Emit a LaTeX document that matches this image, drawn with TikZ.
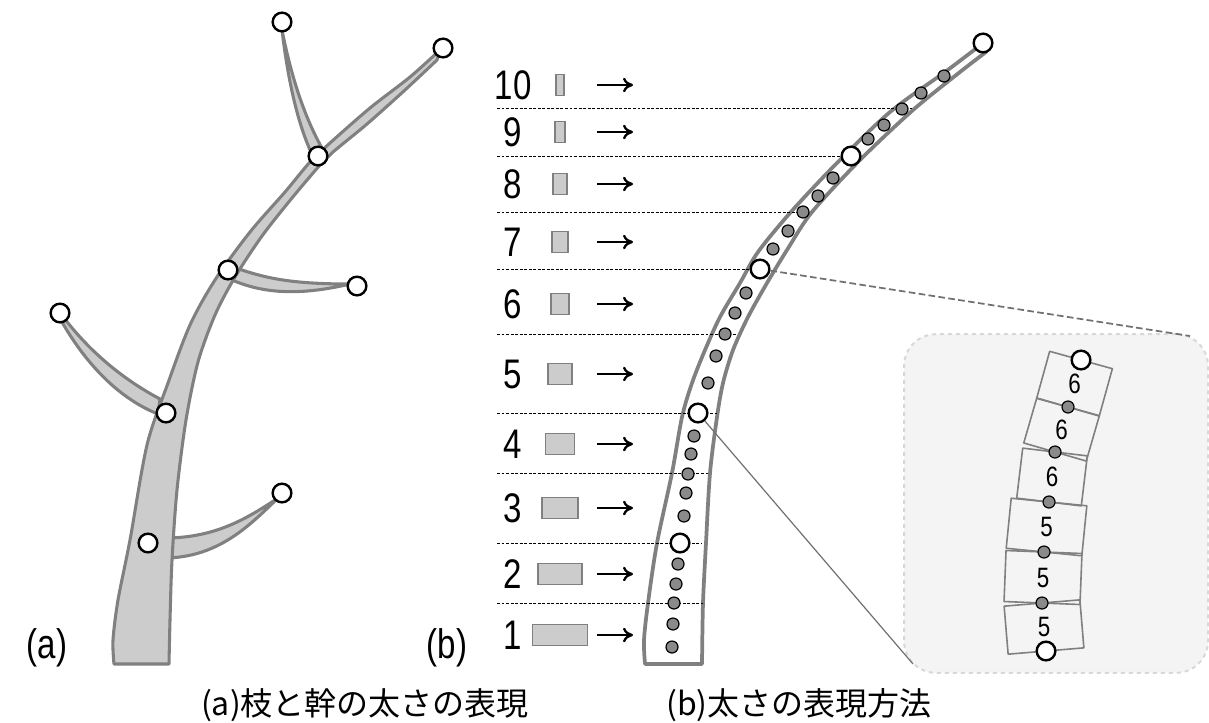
\documentclass[tikz,border=0pt]{standalone}
\usepackage{fontspec}
\setmainfont{Liberation Sans}
\newfontfamily\jpfont{Noto Sans CJK JP}
\usetikzlibrary{arrows.meta, calc}
\definecolor{my_stroke}{HTML}{808080}
\definecolor{my_wood}{HTML}{CCCCCC}
\definecolor{my_dot}{HTML}{8A8A8A}
\definecolor{my_panel}{HTML}{F4F4F4}
\definecolor{my_panelline}{HTML}{D8D8D8}
\definecolor{my_zoom}{HTML}{707070}
\newcommand{\slimtext}[1]{\scalebox{0.8}[1]{#1}}

\begin{document}
\begin{tikzpicture}[
    x=0.75pt, y=-0.75pt,
    wood/.style={fill=my_wood, draw=my_stroke, line width=2.3pt, line join=round},
    bark/.style={fill=white, draw=my_stroke, line width=2.8pt, line join=round},
    knot/.style={circle, draw=black, fill=white, line width=1.8pt, minimum size=14pt, inner sep=0pt},
    segdot/.style={circle, draw=black, fill=my_dot, line width=0.9pt, minimum size=9pt, inner sep=0pt},
    bar/.style={draw=my_stroke, fill=my_wood, line width=1.1pt, minimum height=16pt, inner sep=0pt},
    level/.style={line width=0.7pt, dash pattern=on 2.2pt off 1.2pt},
    numarrow/.style={line width=1.7pt, -{To[length=7.5pt, width=11pt]}},
    numlabel/.style={font=\fontsize{31}{31}\selectfont, inner sep=0pt},
    segbox/.style={draw=my_stroke, line width=1.2pt, line join=round},
    seglabel/.style={font=\fontsize{21}{21}\selectfont, inner sep=0pt},
    panel/.style={draw=my_panelline, fill=my_panel, dashed, line width=1.5pt,
        rounded corners=24pt, minimum width=228pt, minimum height=254pt},
    caption/.style={font=\jpfont\fontsize{24}{24}\selectfont, inner sep=0pt}
]
\useasboundingbox (0,0) rectangle (1209,722);

% ----------------------------------------------------------
% (a) branches and trunk
% ----------------------------------------------------------
\draw[wood] (310,150) .. controls (297,120) and (288,80) .. (282,30)
    .. controls (292,80) and (305,118) .. (323,150) -- cycle;
\draw[wood] (236,268) .. controls (265,278) and (290,284) .. (350,284)
    .. controls (295,297) and (260,292) .. (232,280) -- cycle;
\draw[wood] (64,318) .. controls (85,345) and (115,375) .. (160,399)
    -- (158,414) .. controls (110,395) and (78,350) .. (62,322) -- cycle;
\draw[wood] (168,538) .. controls (215,537) and (245,520) .. (278,498)
    .. controls (250,525) and (220,556) .. (168,558) -- cycle;

\draw[wood] plot[smooth] coordinates {(114,664) (113,640) (118,600) (130,540)
        (147,445) (168,383) (190,325) (215,280) (250,232) (285,192) (310,162)
        (330,143) (370,108) (410,77) (440,50)}
    -- plot[smooth] coordinates {(437,60) (405,90) (367,124) (333,152) (320,165)
        (292,198) (262,236) (235,277) (215,315) (198,362) (186,420) (177,490)
        (172,560) (170,620) (169,664)}
    -- cycle;

\foreach \nm/\px/\py in {a1/148/543, a2/166/413, a3/228/270, a4/318/156,
        a5/282/22, a6/443/48, a7/357/286, a8/60/313, a9/282/493}
    \node[knot] (\nm) at (\px,\py) {};

\node[numlabel] (lab-a) at (47,648) {\slimtext{(a)}};

% ----------------------------------------------------------
% (b) thickness levels
% ----------------------------------------------------------
\draw[bark] plot[smooth] coordinates {(645,664) (644,640) (648,603) (657,543)
        (672,473) (682,417) (692,383) (705,350) (720,317) (740,283) (758,252)
        (790,213) (835,165) (890,112) (945,72) (978,47)}
    -- plot[smooth] coordinates {(986,52) (960,72) (913,110) (860,160) (812,212)
        (787,250) (767,283) (748,317) (733,350) (723,383) (717,417) (710,473)
        (706,543) (703,603) (702,664)}
    -- cycle;

\foreach \y/\xe in {108/913, 156/850, 212/808, 269/765, 334/737,
        413/717, 473/710, 543/702, 603/703}
    \draw[level] (497,\y) -- (\xe,\y);

\foreach \n/\w/\y in {10/8/85, 9/10/132, 8/14/184, 7/16/242, 6/18/304,
        5/24/374, 4/29/444, 3/36/508, 2/44/574, 1/55/635} {
    \node[numlabel] (num-\n) at (513,\y) {\slimtext{\n}};
    \node[bar, minimum width=\w*0.75pt] (bar-\n) at (560,\y) {};
    \draw[numarrow] (597,\y) -- (633,\y);
}

\foreach \px/\py in {944/76, 921/93, 902/109, 884/125, 868/139,
        833/178, 818/196, 803/212, 788/231, 773/249,
        746/293, 735/313, 725/334, 716/356, 708/383,
        694/436, 691/454, 688/474, 686/493, 684/516,
        678/564, 676/584, 674/603, 673/624, 672/647}
    \node[segdot] at (\px,\py) {};

\foreach \nm/\px/\py in {bk1/983/43, bk2/851/156, bk3/760/269, bk4/698/413, bk5/680/543}
    \node[knot] (\nm) at (\px,\py) {};

\node[numlabel] (lab-b) at (447,648) {\slimtext{(b)}};

% ----------------------------------------------------------
% close-up of levels 5 and 6
% ----------------------------------------------------------
\node[panel] (inset) at (1056,503.5) {};
\coordinate (inset-ne) at (1190,336);
\coordinate (inset-sw) at (913,664);
\draw[my_zoom, line width=1.3pt, dash pattern=on 5pt off 2.5pt] (bk3) -- (inset-ne);
\draw[my_zoom, line width=0.9pt] (bk4) -- (inset-sw);

\coordinate (p0) at (1046,651);
\coordinate (p1) at (1042,603);
\coordinate (p2) at (1044,552);
\coordinate (p3) at (1049,502);
\coordinate (p4) at (1055,452);
\coordinate (p5) at (1068,407);
\coordinate (p6) at (1081,360);

\foreach \a/\b/\hw/\t in {p0/p1/28.5pt/5, p1/p2/28.5pt/5, p2/p3/28.5pt/5,
        p3/p4/24.4pt/6, p4/p5/24.4pt/6, p5/p6/24.4pt/6} {
    \draw[segbox] ($(\a)!\hw!90:(\b)$) -- ($(\b)!\hw!-90:(\a)$)
        -- ($(\b)!\hw!90:(\a)$) -- ($(\a)!\hw!-90:(\b)$) -- cycle;
    \node[seglabel] (seg-\a) at ($(\a)!0.5!(\b)$) {\slimtext{\t}};
}

\foreach \c in {p1, p2, p3, p4, p5}
    \node[segdot] (dot-\c) at (\c) {};
\node[knot] (end-p0) at (p0) {};
\node[knot] (end-p6) at (p6) {};

% ----------------------------------------------------------
% captions
% ----------------------------------------------------------
\node[caption] (cap-a) at (365,705) {(a)枝と幹の太さの表現};
\node[caption] (cap-b) at (799,705) {(b)太さの表現方法};

\end{tikzpicture}
\end{document}
